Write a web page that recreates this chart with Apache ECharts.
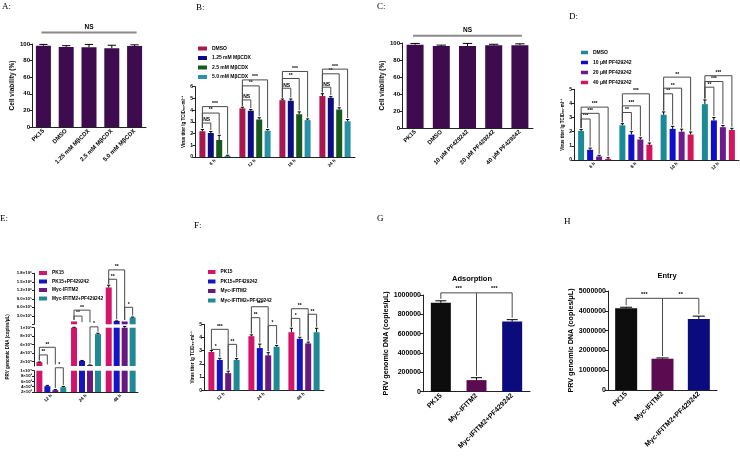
<!DOCTYPE html>
<html><head><meta charset="utf-8">
<script src="https://cdn.jsdelivr.net/npm/echarts@6/dist/echarts.min.js"></script>
<style>html,body{margin:0;padding:0;background:#fff}#c{width:740px;height:457px}</style>
</head><body><div id="c"></div>
<script>
// ================= DATA =================
// Panel A
const A_cats = ['PK15', 'DMSO', '1.25 mM MβCDX', '2.5 mM MβCDX', '5.0 mM MβCDX'];
const A_vals = [98, 96.5, 96, 95, 97.5];
const A_err = [1.5, 1.5, 3.5, 3.5, 1.5];
const A_ns = [[0, 4, 114, 'NS']];
// Panel B
const B_cats = ['6 h', '12 h', '18 h', '24 h'];
const B_names = ['DMSO', '1.25 mM MβCDX', '2.5 mM MβCDX', '5.0 mM MβCDX'];
const B_dmso = [2.2, 4.15, 4.85, 5.2];
const B_125 = [2.05, 3.95, 4.8, 5.05];
const B_25 = [1.45, 3.2, 3.65, 4.05];
const B_50 = [0.1, 2.25, 3.15, 3.05];
const B_dmso_err = [0.15, 0.1, 0.1, 0.2];
const B_125_err = [0.12, 0.1, 0.15, 0.1];
const B_25_err = [0.4, 0.15, 0.2, 0.15];
const B_50_err = [0.05, 0.1, 0.1, 0.15];
const B_brackets = [ // [category, from bar, to bar, height, text]
  [0, 0, 1, 2.9, 'NS'], [0, 0, 2, 3.75, '**'], [0, 0, 3, 4.3, '***'],
  [1, 0, 1, 4.87, 'NS'], [1, 0, 2, 6.07, '**'], [1, 0, 3, 6.58, '***'],
  [2, 0, 1, 5.87, 'NS'], [2, 0, 2, 6.7, '**'], [2, 0, 3, 7.3, '***'],
  [3, 0, 1, 5.96, 'NS'], [3, 0, 2, 7.1, '**'], [3, 0, 3, 7.5, '***']
];
// Panel C
const C_cats = ['PK15', 'DMSO', '10 μM PF429242', '20 μM PF429242', '40 μM PF429242'];
const C_vals = [98, 96.5, 96.5, 97.5, 97.5];
const C_err = [1.5, 1, 3, 1, 1.5];
const C_ns = [[0, 4, 108.6, 'NS']];
// Panel D
const D_cats = ['6 h', '8 h', '10 h', '12 h'];
const D_names = ['DMSO', '10 μM PF429242', '20 μM PF429242', '40 μM PF429242'];
const D_dmso = [2.05, 2.45, 3.2, 3.95];
const D_10 = [0.72, 1.8, 2.2, 2.8];
const D_20 = [0.25, 1.45, 2.0, 2.32];
const D_40 = [0.08, 1.08, 1.8, 2.12];
const D_dmso_err = [0.1, 0.12, 0.2, 0.3];
const D_10_err = [0.12, 0.2, 0.18, 0.2];
const D_20_err = [0.08, 0.12, 0.18, 0.12];
const D_40_err = [0.08, 0.12, 0.18, 0.12];
const D_brackets = [
  [0, 0, 1, 2.9, '***'], [0, 0, 2, 3.3, '***'], [0, 0, 3, 3.74, '***'],
  [1, 0, 1, 3.36, '**'], [1, 0, 2, 3.83, '***'], [1, 0, 3, 4.68, '***'],
  [2, 0, 1, 4.68, '**'], [2, 0, 2, 5.08, '**'], [2, 0, 3, 5.86, '**'],
  [3, 0, 1, 5.15, '**'], [3, 0, 2, 5.55, '***'], [3, 0, 3, 5.96, '***']
];
// Panel E (broken axis)
const E_cats = ['12 h', '24 h', '48 h'];
const EF_names = ['PK15', 'PK15+PF429242', 'Myc-IFITM2', 'Myc-IFITM2+PF429242'];
const E_pk15 = [19000, 100000, 1300000];
const E_pk15pf = [4200, 22000, 115000];
const E_myc = [2700, 12000, 100000];
const E_mycpf = [3800, 85000, 240000];
const E_pk15_err = [500, 1000, 80000];
const E_pk15pf_err = [300, 1000, 5000];
const E_myc_err = [200, 500, 3000];
const E_mycpf_err = [300, 2000, 15000];
const E_topTickVals = [300000, 600000, 900000, 1200000, 1500000, 1800000];
const E_topTickText = ['3.0×10⁵', '6.0×10⁵', '9.0×10⁵', '1.2×10⁶', '1.5×10⁶', '1.8×10⁶'];
const E_midTickVals = [20000, 40000, 60000, 80000, 100000];
const E_midTickText = ['2×10⁴', '4×10⁴', '6×10⁴', '8×10⁴', '1×10⁵'];
const E_lowTickVals = [2000, 4000, 6000, 8000, 10000];
const E_lowTickText = ['2×10³', '4×10³', '6×10³', '8×10³', '1×10⁴'];
const E_brackets = [ // [category, from, to, height, text, segment]
  [0, 0, 1, 36000, '**', 'mid'], [0, 0, 2, 54000, '**', 'mid'], [0, 2, 3, 11100, '*', 'low'],
  [1, 0, 1, 290000, '**', 'top'], [1, 0, 2, 500000, '**', 'top'], [1, 2, 3, 102000, '*', 'mid'],
  [2, 0, 1, 1590000, '**', 'top'], [2, 0, 2, 1920000, '**', 'top'], [2, 2, 3, 600000, '*', 'top']
];
// Panel F
const F_cats = ['12 h', '24 h', '48 h'];
const F_pk15 = [2.9, 4.1, 4.4];
const F_pk15pf = [2.3, 3.2, 3.9];
const F_myc = [1.3, 2.65, 3.55];
const F_mycpf = [2.3, 3.3, 4.4];
const F_pk15_err = [0.12, 0.1, 0.3];
const F_pk15pf_err = [0.12, 0.3, 0.12];
const F_myc_err = [0.15, 0.2, 0.1];
const F_mycpf_err = [0.1, 0.1, 0.3];
const F_brackets = [
  [0, 0, 1, 3.1, '*'], [0, 0, 2, 4.62, '***'], [0, 2, 3, 3.48, '**'],
  [1, 0, 1, 5.5, '**'], [1, 0, 2, 6.33, '***'], [1, 2, 3, 4.9, '*'],
  [2, 0, 1, 5.45, '*'], [2, 0, 2, 6.18, '**'], [2, 2, 3, 5.76, '**']
];
// Panel G
const GH_cats = ['PK15', 'Myc-IFITM2', 'Myc-IFITM2+PF429242'];
const G_vals = [920000, 120000, 725000];
const G_err = [20000, 25000, 20000];
const G_brackets = [[0, 1, 1022000, '***'], [1, 2, 1022000, '***']];
// Panel H
const H_vals = [4130000, 1580000, 3580000];
const H_err = [50000, 40000, 150000];
const H_brackets = [[0, 1, 4630000, '***'], [1, 2, 4630000, '**']];

// ================= STYLE / BUILD =================
const FONT = '"Liberation Sans", Arial, sans-serif';
const SERIF = '"Liberation Serif", "Times New Roman", serif';
const AX = '#222';
const grids = [], xAxes = [], yAxes = [], series = [], legends = [], titles = [];

function barOffset(k, n, w, g) {
  const total = n * w + (n - 1) * w * g;
  return -total / 2 + k * w * (1 + g) + w / 2;
}
function clampV(v, r) { return Math.max(r[0], Math.min(r[1], v)); }
function tickFmt(vals, texts) {
  return function (v) {
    const i = vals.findIndex(t => Math.abs(t - v) < 1e-6 * t);
    return i >= 0 ? texts[i] : '';
  };
}

function addGrid(box, cats, xo, yo) {
  const gi = grids.length;
  grids.push({left: box[0], top: box[1], width: box[2], height: box[3]});
  xAxes.push({
    type: 'category', gridIndex: gi, data: cats, show: xo.show !== false,
    axisLine: {lineStyle: {color: AX, width: 1}},
    axisTick: {alignWithLabel: true, length: 2, lineStyle: {color: AX}},
    axisLabel: {rotate: 45, interval: 0, fontSize: xo.font, fontWeight: 'bold', fontFamily: FONT, color: '#000', margin: xo.margin || 3}
  });
  yAxes.push({
    type: 'value', gridIndex: gi, min: yo.min, max: yo.max, interval: yo.interval, splitNumber: yo.splitNumber,
    splitLine: {show: false},
    axisLine: {show: true, lineStyle: {color: AX, width: 1}},
    axisTick: {show: true, length: yo.tickLen || 2.5, lineStyle: {color: AX}},
    axisLabel: {fontSize: yo.font, fontWeight: 'bold', fontFamily: FONT, color: '#000', margin: yo.margin || 2,
      formatter: yo.formatter, showMinLabel: yo.showMinLabel},
    name: yo.name || '', nameLocation: 'middle', nameGap: yo.nameGap || 10, nameRotate: 90,
    nameTextStyle: {fontSize: yo.nameFont || 6, fontWeight: 'bold', fontFamily: FONT, color: '#000'}
  });
  return gi;
}

function addBars(gi, names, vals, colors, w, g, filter) {
  vals.forEach((arr, k) => {
    series.push({
      type: 'bar', name: names ? names[k] : undefined, xAxisIndex: gi, yAxisIndex: gi,
      data: arr.map(v => (filter && !filter(v)) ? '-' : v),
      barWidth: w, barGap: (g * 100) + '%', itemStyle: {color: colors[k]},
      silent: true, animation: false
    });
  });
}

function addErrors(gi, vals, errs, w, g, show) {
  const n = vals.length;
  vals.forEach((arr, k) => {
    series.push({
      type: 'custom', coordinateSystem: 'cartesian2d', xAxisIndex: gi, yAxisIndex: gi, z: 5, silent: true, clip: false,
      data: arr.map((v, i) => [i, v, errs[k][i]]),
      renderItem: function (p, api) {
        const i = api.value(0), v = api.value(1), e = api.value(2);
        if (show && !show(v)) return;
        const base = api.coord([i, v]);
        const top = api.coord([i, v + e]);
        const x = base[0] + barOffset(k, n, w, g);
        const cw = Math.max(2, w * 0.55);
        return {type: 'group', children: [
          {type: 'line', shape: {x1: x, y1: base[1], x2: x, y2: top[1]}, style: {stroke: '#000', lineWidth: 1}},
          {type: 'line', shape: {x1: x - cw / 2, y1: top[1], x2: x + cw / 2, y2: top[1]}, style: {stroke: '#000', lineWidth: 1}}
        ]};
      }
    });
  });
}

// list items: {ca, ka, cb, kb, level, text}
function addBrackets(gi, list, vals, errs, w, g, range, st) {
  const n = vals.length;
  series.push({
    type: 'custom', coordinateSystem: 'cartesian2d', xAxisIndex: gi, yAxisIndex: gi, z: 6, silent: true, clip: false,
    data: list.map(b => [b.ca, b.level]),
    renderItem: function (p, api) {
      const b = list[p.dataIndex];
      const xa = api.coord([b.ca, 0])[0] + barOffset(b.ka, n, w, g);
      const xb = api.coord([b.cb, 0])[0] + barOffset(b.kb, n, w, g);
      const yl = api.coord([b.ca, b.level])[1];
      const ch = [];
      if (st.drops) {
        const ya = api.coord([b.ca, clampV(vals[b.ka][b.ca] + errs[b.ka][b.ca], range)])[1] - st.pad;
        const yb = api.coord([b.cb, clampV(vals[b.kb][b.cb] + errs[b.kb][b.cb], range)])[1] - st.pad;
        ch.push({type: 'polyline', shape: {points: [[xa, ya], [xa, yl], [xb, yl], [xb, yb]]},
          style: {stroke: st.color, lineWidth: st.lw, fill: 'none'}});
      } else {
        ch.push({type: 'line', shape: {x1: xa - st.ext, y1: yl, x2: xb + st.ext, y2: yl},
          style: {stroke: st.color, lineWidth: st.lw}});
      }
      ch.push({type: 'text', x: (xa + xb) / 2, y: yl - st.tgap,
        style: {text: b.text, fill: '#000', fontSize: st.font, fontWeight: 'bold', fontFamily: FONT, align: 'center', verticalAlign: 'bottom'}});
      return {type: 'group', children: ch};
    }
  });
}
function groupBr(arr) { return arr.map(b => ({ca: b[0], ka: b[1], cb: b[0], kb: b[2], level: b[3], text: b[4]})); }
function singleBr(arr) { return arr.map(b => ({ca: b[0], ka: 0, cb: b[1], kb: 0, level: b[2], text: b[3]})); }

function addLegend(names, colors, left, top, o) {
  legends.push({
    left: left, top: top, orient: 'vertical', selectedMode: false, padding: 0,
    itemGap: o.gap, itemWidth: o.iw, itemHeight: o.ih, icon: 'rect',
    textStyle: {fontSize: o.font, fontWeight: 'bold', fontFamily: FONT, color: '#000'},
    data: names.map((nm, i) => ({name: nm, itemStyle: {color: colors[i]}}))
  });
}
function addTitle(text, left, top, font, size, align) {
  titles.push({text: text, left: left, top: top, padding: 0, textAlign: align || 'left',
    textStyle: {fontFamily: font, fontSize: size, fontWeight: font === SERIF ? 'normal' : 'bold', color: '#000'}});
}

const VIRUS = 'Virus titer lg TCID₅₀·ml⁻¹';
const PRV = 'PRV genomic DNA (copies/μL)';

// ---- A ----
{
  const gi = addGrid([32, 44, 114, 83], A_cats, {font: 6},
    {min: 0, max: 100, interval: 20, font: 6, name: 'Cell viability (%)', nameFont: 6.5, nameGap: 16});
  addBars(gi, null, [A_vals], ['#3d0b4e'], 15, 0);
  addErrors(gi, [A_vals], [A_err], 15, 0);
  addBrackets(gi, singleBr(A_ns), [A_vals], [A_err], 15, 0, [0, 100],
    {drops: false, color: '#8a8a8a', lw: 2, font: 6.5, tgap: 2, ext: 2});
}
// ---- B ----
const B_colors = ['#a8174d', '#0d0d82', '#17581c', '#2a91a8'];
{
  const vals = [B_dmso, B_125, B_25, B_50], errs = [B_dmso_err, B_125_err, B_25_err, B_50_err];
  const gi = addGrid([195, 86.7, 160, 70.3], B_cats, {font: 4.5},
    {min: 0, max: 6, interval: 1, font: 5, name: VIRUS, nameFont: 4.5, nameGap: 6});
  addBars(gi, B_names, vals, B_colors, 6, 0.4);
  addErrors(gi, vals, errs, 6, 0.4);
  addBrackets(gi, groupBr(B_brackets), vals, errs, 6, 0.4, [0, 6],
    {drops: true, color: '#4a4a4a', lw: 1, font: 5, tgap: 0.5, pad: 1.5});
  addLegend(B_names, B_colors, 198, 46, {gap: 4.5, iw: 9, ih: 4, font: 5});
}
// ---- C ----
{
  const gi = addGrid([402, 43, 131, 85], C_cats, {font: 6},
    {min: 0, max: 100, interval: 20, font: 6, name: 'Cell viability (%)', nameFont: 6.5, nameGap: 16});
  addBars(gi, null, [C_vals], ['#3d0b4e'], 17, 0);
  addErrors(gi, [C_vals], [C_err], 17, 0);
  addBrackets(gi, singleBr(C_ns), [C_vals], [C_err], 17, 0, [0, 100],
    {drops: false, color: '#8a8a8a', lw: 2, font: 6.5, tgap: 2, ext: 2});
}
// ---- D ----
const D_colors = ['#1b8a97', '#0e0ecc', '#6b1b8e', '#d4155e'];
{
  const vals = [D_dmso, D_10, D_20, D_40], errs = [D_dmso_err, D_10_err, D_20_err, D_40_err];
  const gi = addGrid([574, 89.3, 165, 70.7], D_cats, {font: 4.5},
    {min: 0, max: 5, interval: 1, font: 5, name: VIRUS, nameFont: 4.5, nameGap: 8});
  addBars(gi, D_names, vals, D_colors, 6, 0.5);
  addErrors(gi, vals, errs, 6, 0.5);
  addBrackets(gi, groupBr(D_brackets), vals, errs, 6, 0.5, [0, 5],
    {drops: true, color: '#4a4a4a', lw: 1, font: 5, tgap: 0.5, pad: 1.5});
  addLegend(D_names, D_colors, 581, 50, {gap: 5, iw: 7, ih: 3.5, font: 5});
}
// ---- E (broken axis: three segments) ----
const EF_colors = ['#d2156a', '#1414c2', '#6a187f', '#1f8a95'];
{
  const vals = [E_pk15, E_pk15pf, E_myc, E_mycpf], errs = [E_pk15_err, E_pk15pf_err, E_myc_err, E_mycpf_err];
  const segs = {
    top: {box: [34, 273.3, 104, 51], y: {min: 0, max: 1800000, interval: 300000, formatter: tickFmt(E_topTickVals, E_topTickText)},
      filter: v => v >= 100000, show: v => v > 100000, range: [0, 1800000]},
    mid: {box: [34, 327.7, 104, 38.3], y: {min: 10000, max: 100000, splitNumber: 5, showMinLabel: false,
      formatter: tickFmt(E_midTickVals, E_midTickText), name: PRV, nameFont: 4.5, nameGap: 24},
      filter: v => v >= 10000, show: v => v > 10000 && v <= 100000, range: [10000, 100000]},
    low: {box: [34, 370.7, 104, 21.3], y: {min: 2000, max: 10000, interval: 2000, formatter: tickFmt(E_lowTickVals, E_lowTickText)},
      filter: null, show: v => v <= 10000, range: [2000, 10000]}
  };
  Object.keys(segs).forEach(key => {
    const s = segs[key];
    const yo = Object.assign({font: 4.3, tickLen: 2}, s.y);
    const gi = addGrid(s.box, E_cats, {font: 4.5, show: key === 'low'}, yo);
    addBars(gi, EF_names, vals, EF_colors, 6, 0.33, s.filter);
    addErrors(gi, vals, errs, 6, 0.33, s.show);
    const br = E_brackets.filter(b => b[5] === key);
    addBrackets(gi, groupBr(br), vals, errs, 6, 0.33, s.range,
      {drops: true, color: '#4a4a4a', lw: 1, font: 5, tgap: 0.5, pad: 1.5});
  });
  addLegend(EF_names, EF_colors, 39, 270.5, {gap: 3.5, iw: 8, ih: 4, font: 4.8});
}
// ---- F ----
{
  const vals = [F_pk15, F_pk15pf, F_myc, F_mycpf], errs = [F_pk15_err, F_pk15pf_err, F_myc_err, F_mycpf_err];
  const gi = addGrid([204, 324.3, 120, 66], F_cats, {font: 4.5},
    {min: 0, max: 5, interval: 1, font: 5, name: VIRUS, nameFont: 4.5, nameGap: 7});
  addBars(gi, EF_names, vals, EF_colors, 6, 0.4);
  addErrors(gi, vals, errs, 6, 0.4);
  addBrackets(gi, groupBr(F_brackets), vals, errs, 6, 0.4, [0, 5],
    {drops: true, color: '#4a4a4a', lw: 1, font: 5, tgap: 0.5, pad: 1.5});
  addLegend(EF_names, EF_colors, 208, 269.5, {gap: 4.5, iw: 7.5, ih: 4, font: 4.8});
}
// ---- G / H ----
const GH_colors = ['#0d0d0d', '#5b0b4f', '#0b0b7d'];
function addGH(box, vals, errs, brs, max, interval, w, nameGap) {
  const gi = addGrid(box, GH_cats, {font: 7},
    {min: 0, max: max, interval: interval, font: 7, name: PRV, nameFont: 7.2, nameGap: nameGap, tickLen: 3,
     formatter: v => String(v)});
  series.push({type: 'bar', xAxisIndex: gi, yAxisIndex: gi, barWidth: w, silent: true, animation: false,
    data: vals.map((v, i) => ({value: v, itemStyle: {color: GH_colors[i]}}))});
  addErrors(gi, [vals], [errs], w, 0);
  addBrackets(gi, singleBr(brs), [vals], [errs], w, 0, [0, max],
    {drops: true, color: '#4a4a4a', lw: 1, font: 5.5, tgap: 1, pad: 2});
}
addGH([423, 295, 107, 96.7], G_vals, G_err, G_brackets, 1000000, 200000, 20, 33);
addGH([608, 291, 109, 99], H_vals, H_err, H_brackets, 5000000, 1000000, 22, 33);

// ---- titles / panel letters ----
addTitle('A:', 2, 2, SERIF, 9);
addTitle('B:', 196, 3, SERIF, 9);
addTitle('C:', 377, 2, SERIF, 9);
addTitle('D:', 569, 12, SERIF, 9);
addTitle('E:', 0, 214, SERIF, 9);
addTitle('F:', 194, 221, SERIF, 9);
addTitle('G', 377, 214, SERIF, 9);
addTitle('H', 564, 217, SERIF, 9);
addTitle('Adsorption', 472, 275, FONT, 7.5, 'center');
addTitle('Entry', 667, 272, FONT, 7.5, 'center');

const chart = echarts.init(document.getElementById('c'));
chart.setOption({
  animation: false,
  backgroundColor: '#fff',
  title: titles,
  legend: legends,
  grid: grids,
  xAxis: xAxes,
  yAxis: yAxes,
  series: series
});
</script></body></html>
